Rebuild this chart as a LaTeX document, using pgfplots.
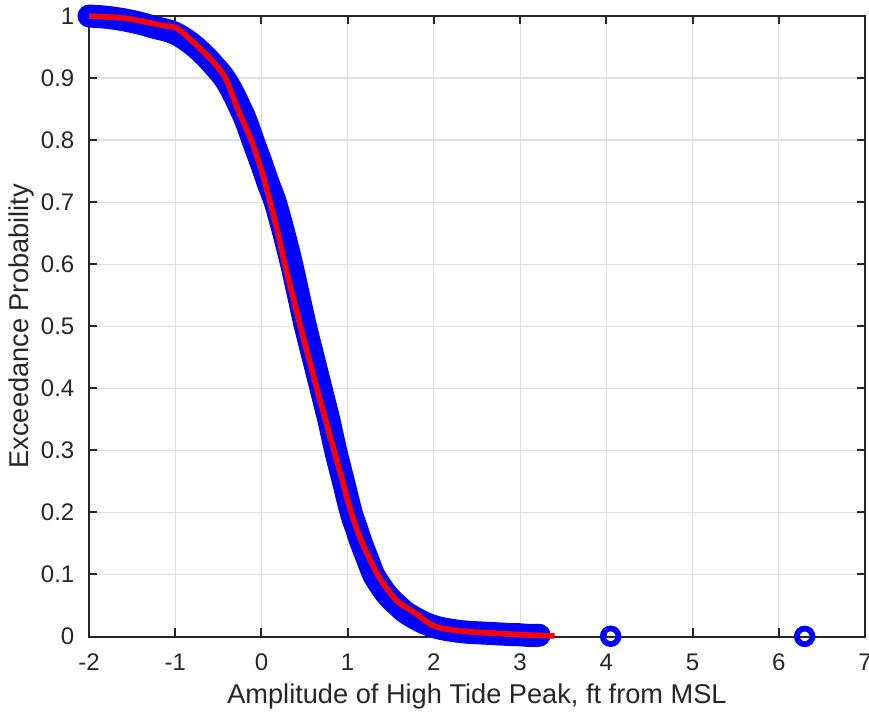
\documentclass[border=0pt]{standalone}
\usepackage{pgfplots}
\pgfplotsset{compat=1.18}
\usepackage{fontspec}
\setmainfont{Liberation Sans}
\definecolor{axgray}{HTML}{262626}
\definecolor{gridgray}{HTML}{DFDFDF}
\definecolor{mblue}{HTML}{0000FF}
\definecolor{mred}{HTML}{FF0000}

\begin{document}
\begin{tikzpicture}
\begin{axis}[
    at={(0,0)}, anchor=south west,
    scale only axis, width=388pt, height=310.25pt,
    xmin=-2, xmax=7, ymin=0, ymax=1,
    xtick={-2,-1,0,1,2,3,4,5,6,7},
    ytick={0,0.1,0.2,0.3,0.4,0.5,0.6,0.7,0.8,0.9,1},
    grid=major,
    major grid style={gridgray, line width=0.6pt},
    axis line style={axgray, line width=1pt},
    tick style={axgray, line width=1pt},
    tick align=inside, major tick length=4pt,
    /pgf/number format/assume math mode=true,
    ticklabel style={font=\fontsize{12}{13}\selectfont, text=axgray},
    xticklabel style={yshift=-5pt},
    yticklabel style={xshift=-3.8pt},
    xlabel={Amplitude of High Tide Peak, ft from MSL},
    ylabel={Exceedance Probability},
    label style={font=\fontsize{13.6}{14}\selectfont, text=axgray},
    xlabel style={at={(axis description cs:0.5,-0.108)}, anchor=base},
    ylabel style={at={(axis description cs:-0.0875,0.5)}, anchor=center},
    clip=false, clip marker paths=true,
]
% observed peaks (dense band of circles)
\addplot[mblue, smooth, tension=0.5, line width=11.5pt, line join=round, line cap=round,
         mark=o, mark options={line width=2.9pt, solid, mark size=3.9pt}]
    coordinates{(-2.00,1.000)(-1.80,0.998)(-1.60,0.994)(-1.40,0.988)
                (-1.25,0.982)(-1.10,0.977)(-1.00,0.972)(-0.90,0.964)
                (-0.80,0.954)(-0.70,0.942)(-0.62,0.931)(-0.55,0.920)
                (-0.48,0.909)(-0.42,0.898)(-0.36,0.884)(-0.30,0.868)
                (-0.25,0.853)(-0.20,0.838)(-0.15,0.820)
                (-0.10,0.800)(-0.05,0.781)(0.00,0.762)(0.08,0.730)(0.16,0.700)
                (0.26,0.650)(0.35,0.600)(0.43,0.550)(0.51,0.500)
                (0.60,0.450)(0.69,0.400)(0.78,0.350)(0.86,0.300)
                (0.95,0.250)(1.04,0.200)(1.10,0.175)(1.16,0.150)(1.23,0.125)(1.30,0.100)
                (1.37,0.084)(1.44,0.070)(1.51,0.059)(1.58,0.050)(1.66,0.040)(1.75,0.032)
                (1.87,0.023)(2.00,0.016)
                (2.12,0.012)(2.25,0.009)(2.38,0.007)(2.50,0.006)(2.64,0.005)(2.78,0.004)(2.90,0.003)(2.98,0.003)
                (3.07,0.002)(3.22,0.002)};
\addplot[mblue, only marks, mark=o,
         mark options={line width=2.9pt, mark size=3.9pt}]
    coordinates{(4.05,0.0004)(6.30,0.0002)};
% fitted exceedance curve
\addplot[mred, smooth, tension=0.5, line width=2.8pt, line join=round]
    coordinates{(-2.00,1.000)(-1.56,0.996)(-1.16,0.985)(-0.98,0.980)
                (-0.77,0.955)(-0.58,0.929)(-0.42,0.900)(-0.27,0.848)
                (-0.12,0.800)(0.00,0.751)(0.10,0.700)(0.19,0.650)
                (0.27,0.600)(0.36,0.550)(0.45,0.500)(0.545,0.450)
                (0.64,0.400)(0.74,0.350)(0.84,0.300)(0.94,0.250)
                (1.04,0.200)(1.17,0.150)(1.345,0.100)(1.45,0.078)
                (1.58,0.056)(1.78,0.038)(2.00,0.017)(2.30,0.009)
                (2.67,0.0055)(3.00,0.003)(3.40,0.001)};
\end{axis}
\pgfresetboundingbox
\path (-44.5pt,-38.25pt) rectangle (390pt,318.25pt);
\end{tikzpicture}
\end{document}
